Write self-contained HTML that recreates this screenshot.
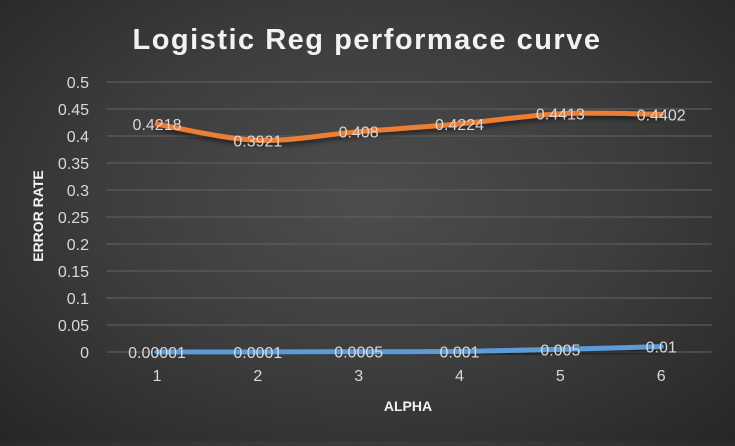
<!DOCTYPE html>
<html><head><meta charset="utf-8"><style>
html,body{margin:0;padding:0;}
body{width:735px;height:441px;overflow:hidden;background:radial-gradient(ellipse at 50% 45%,#4d4d4d 0%,#3d3d3d 50%,#262626 100%);font-family:"Liberation Sans",sans-serif;}
</style></head><body>
<svg id="chart" width="735" height="441" xmlns="http://www.w3.org/2000/svg">
<defs><filter id="sh" x="-10%" y="-50%" width="120%" height="200%"><feDropShadow dx="0" dy="3" stdDeviation="2.5" flood-color="#000" flood-opacity="0.5"/></filter></defs>
<text x="367" y="49" text-anchor="middle" fill="#f2f2f2" font-size="29" font-weight="bold" letter-spacing="1.5">Logistic Reg performace curve</text>
<g id="grid"></g><g id="yticks"></g><g id="xticks"></g><g id="series"></g><g id="labels"></g>
<text transform="translate(43,216) rotate(-90)" text-anchor="middle" fill="#f2f2f2" font-size="14" font-weight="bold">ERROR RATE</text>
<text x="408" y="411" text-anchor="middle" fill="#f2f2f2" font-size="14" font-weight="bold">ALPHA</text>
</svg>
<script>
const categories=["1","2","3","4","5","6"];
const errorRate=[0.4218,0.3921,0.408,0.4224,0.4413,0.4402];
const alphaVals=[0.00001,0.0001,0.0005,0.001,0.005,0.01];
const alphaLabels=["0.00001","0.0001","0.0005","0.001","0.005","0.01"];
const errorLabels=["0.4218","0.3921","0.408","0.4224","0.4413","0.4402"];
const yTicks=[0,0.05,0.1,0.15,0.2,0.25,0.3,0.35,0.4,0.45,0.5];
const yTickLabels=["0","0.05","0.1","0.15","0.2","0.25","0.3","0.35","0.4","0.45","0.5"];
const L=106.6,R=711.6,Y0=352,Y1=82;
const x=i=>L+(R-L)/categories.length*(i+0.5);
const y=v=>Y0-(Y0-Y1)*v/0.5;
const NS="http://www.w3.org/2000/svg";
function mk(t,a,p,txt){const e=document.createElementNS(NS,t);for(const k in a)e.setAttribute(k,a[k]);if(txt!==undefined)e.textContent=txt;document.getElementById(p).appendChild(e);return e;}
yTicks.forEach((v,i)=>{
 const g=mk('line',{x1:L,x2:R,y1:y(v),y2:y(v),stroke:'#5c5c5c','stroke-width':1.3},'grid');
 
 
 const t=mk('text',{x:89,y:y(v)+6,'text-anchor':'end',fill:'#d9d9d9','font-size':16},'yticks',yTickLabels[i]);
 
 
});
categories.forEach((c,i)=>{
 const t=mk('text',{x:x(i),y:381,'text-anchor':'middle',fill:'#d9d9d9','font-size':16},'xticks',c);
 
 
});
function path(vals){const p=vals.map((v,i)=>[x(i),y(v)]);let d='M'+p[0][0]+','+p[0][1];
 for(let i=0;i<p.length-1;i++){const p0=p[Math.max(0,i-1)],p1=p[i],p2=p[i+1],p3=p[Math.min(p.length-1,i+2)];const k=1/6;
 d+=' C'+(p1[0]+(p2[0]-p0[0])*k)+','+(p1[1]+(p2[1]-p0[1])*k)+' '+(p2[0]-(p3[0]-p1[0])*k)+','+(p2[1]-(p3[1]-p1[1])*k)+' '+p2[0]+','+p2[1];}
 return d;}
const s1=mk('path',{d:path(alphaVals),fill:'none',stroke:'#5b9bd5','stroke-width':5,'stroke-linecap':'round',filter:'url(#sh)'},'series');


const s2=mk('path',{d:path(errorRate),fill:'none',stroke:'#ed7d31','stroke-width':5,'stroke-linecap':'round',filter:'url(#sh)'},'series');


alphaVals.forEach((v,i)=>{
 const t=mk('text',{x:x(i),y:y(v)+6,'text-anchor':'middle',fill:'#d9d9d9','font-size':16},'labels',alphaLabels[i]);
 
 
});
errorRate.forEach((v,i)=>{
 const t=mk('text',{x:x(i),y:y(v)+6,'text-anchor':'middle',fill:'#d9d9d9','font-size':16},'labels',errorLabels[i]);
 
 
});
</script>
</body></html>
